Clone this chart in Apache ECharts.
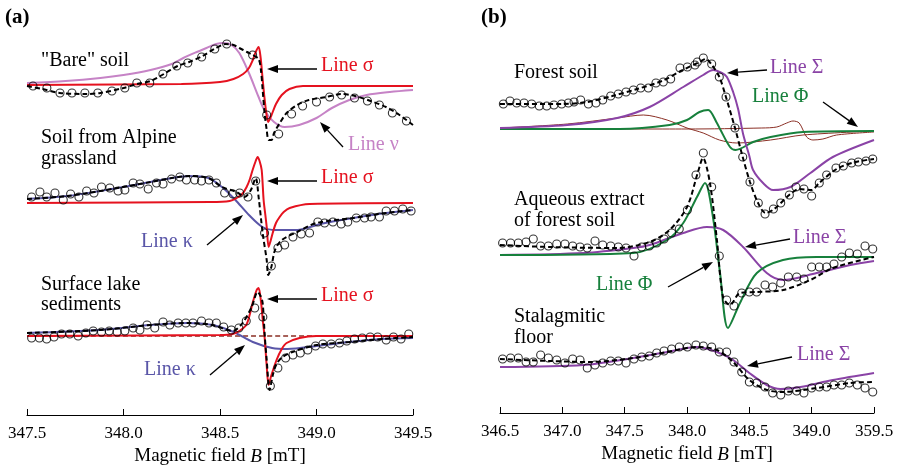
<!DOCTYPE html>
<html><head><meta charset="utf-8">
<script src="https://cdn.jsdelivr.net/npm/echarts@6/dist/echarts.min.js"></script>
<style>html,body{margin:0;padding:0;background:#fff}#c{width:903px;height:470px}</style>
</head><body><div id="c"></div>
<script>
// ---------- tick labels ----------
const tickLabelsA = ['347.5','348.0','348.5','349.0','349.5'];
const tickLabelsB = ['346.5','347.0','347.5','348.0','348.5','349.0','359.5'];

// ---------- vertical offsets of stacked spectra (arb. units) ----------
const offBare = 330, offAlpine = 212, offLake = 79;
const offForest = 284, offAqueous = 158, offStalag = 46;

// ---------- panel (a): "Bare" soil ----------
const bareSigma = [[347.5,0],[348.3,1],[348.5,3],[348.57,6],[348.62,11],[348.65,17],[348.67,25],[348.685,33],[348.70,38],[348.71,28],[348.72,8],[348.73,-12],[348.74,-28],[348.75,-37],[348.765,-31],[348.79,-19],[348.82,-10],[348.86,-4],[348.93,-1],[349.5,-1]];
const bareNu = [[347.5,2],[347.7,4],[347.88,7],[348.0,10],[348.14,15],[348.25,21],[348.31,27],[348.38,33],[348.43,37],[348.48,41],[348.52,42],[348.56,40],[348.6,32],[348.65,12],[348.7,-12],[348.73,-25],[348.78,-37],[348.835,-42],[348.91,-40],[349.0,-33],[349.08,-23],[349.17,-15],[349.26,-10],[349.38,-7],[349.5,-5]];
const bareFit = [[347.5,-1],[347.58,-4],[347.67,-8],[347.81,-9],[347.88,-8],[348.0,-3],[348.07,1],[348.14,4],[348.2,10],[348.28,19],[348.34,23],[348.41,29],[348.47,36],[348.53,41],[348.57,40],[348.6,37],[348.64,33],[348.67,30],[348.70,26],[348.712,15],[348.721,-5],[348.731,-28],[348.742,-45],[348.752,-55],[348.767,-55],[348.78,-48],[348.81,-38],[348.845,-28],[348.9,-20],[348.96,-15],[349.05,-12],[349.13,-9],[349.2,-11],[349.28,-16],[349.36,-22],[349.43,-30],[349.5,-40]];
const bareData = [[347.531,-1],[347.603,-3],[347.671,-8],[347.733,-8],[347.800,-8],[347.867,-8],[347.940,-6],[348.007,-3],[348.069,2],[348.136,2],[348.204,11],[348.276,19],[348.333,22],[348.405,28],[348.473,36],[348.535,41],[348.669,30],[348.742,-30],[348.804,-49],[348.871,-29],[348.928,-21],[349.000,-17],[349.068,-12],[349.130,-10],[349.197,-13],[349.264,-16],[349.326,-20],[349.393,-28],[349.466,-36]];

// ---------- panel (a): Soil from Alpine grassland ----------
const alpSigma = [[347.5,0],[348.45,1],[348.55,2],[348.586,5],[348.615,9],[348.638,16],[348.655,24],[348.669,33],[348.685,42],[348.695,46],[348.705,42],[348.716,33],[348.726,3],[348.735,-12],[348.742,-24],[348.752,-44],[348.762,-38],[348.773,-30],[348.79,-20],[348.809,-14],[348.83,-9],[348.861,-5],[348.964,-1],[349.5,0]];
const alpKappa = [[347.5,4],[347.71,7],[347.97,15],[348.14,21],[348.25,25],[348.34,27],[348.44,25],[348.51,16],[348.58,3],[348.65,-12],[348.72,-24],[348.79,-27],[348.9,-27],[349.02,-21],[349.19,-15],[349.36,-10],[349.5,-7]];
const alpFit = [[347.5,4],[347.71,7],[347.97,15],[348.14,21],[348.25,25],[348.34,27],[348.44,25],[348.51,16],[348.586,11],[348.628,6],[348.66,13],[348.685,25],[348.70,6],[348.721,-30],[348.742,-57],[348.75,-72],[348.766,-64],[348.785,-47],[348.82,-37],[348.9,-29],[349.0,-20],[349.19,-15],[349.36,-10],[349.5,-7]];
const alpData = [[347.524,6],[347.567,11],[347.602,6],[347.645,10],[347.688,3],[347.726,9],[347.769,6],[347.809,12],[347.847,10],[347.886,16],[347.929,15],[347.972,12],[348.007,13],[348.050,20],[348.085,19],[348.128,14],[348.171,20],[348.205,19],[348.249,24],[348.292,26],[348.326,23],[348.369,23],[348.404,22],[348.443,23],[348.481,20],[348.524,10],[348.567,9],[348.602,10],[348.645,6],[348.685,22],[348.731,-30],[348.766,-63],[348.800,-45],[348.835,-42],[348.878,-34],[348.921,-31],[348.964,-30],[349.007,-19],[349.042,-20],[349.085,-19],[349.128,-21],[349.162,-19],[349.206,-15],[349.249,-15],[349.283,-14],[349.326,-14],[349.361,-8],[349.404,-8],[349.447,-6],[349.490,-8]];

// ---------- panel (a): Surface lake sediments ----------
const lakeSigma = [[347.5,0],[348.5,1],[348.566,2],[348.6,5],[348.636,11],[348.655,22],[348.669,33],[348.69,46],[348.70,48],[348.712,35],[348.722,15],[348.731,-1],[348.742,-30],[348.752,-49],[348.765,-40],[348.793,-24],[348.82,-13],[348.845,-7],[348.912,-2],[349.0,0],[349.5,0]];
const lakeKappa = [[347.5,3],[347.88,6],[348.14,11],[348.33,13],[348.46,11],[348.57,4],[348.67,-6],[348.77,-12],[348.85,-13],[349.0,-10],[349.17,-6],[349.34,-3],[349.5,-2]];
const lakeBase = [[347.5,0],[349.5,0]];
const lakeFit = [[347.5,3],[347.88,6],[348.14,11],[348.33,13],[348.46,11],[348.566,5],[348.617,13],[348.664,29],[348.695,44],[348.71,40],[348.721,33],[348.732,0],[348.742,-24],[348.757,-54],[348.775,-38],[348.793,-28],[348.824,-21],[348.876,-16],[349.0,-9],[349.17,-6],[349.34,-3],[349.5,-1]];
const lakeData = [[347.524,-2],[347.564,-2],[347.602,-3],[347.640,-1],[347.679,2],[347.722,2],[347.765,0],[347.805,3],[347.843,5],[347.886,4],[347.926,5],[347.967,4],[348.007,5],[348.050,8],[348.085,6],[348.122,11],[348.162,8],[348.205,14],[348.240,11],[348.283,13],[348.323,13],[348.360,13],[348.404,15],[348.443,13],[348.481,13],[348.519,9],[348.559,6],[348.598,8],[348.636,15],[348.680,28],[348.722,19],[348.761,-50],[348.800,-32],[348.840,-22],[348.878,-19],[348.916,-17],[348.955,-14],[348.995,-10],[349.033,-8],[349.076,-8],[349.119,-7],[349.157,-5],[349.197,-3],[349.237,-2],[349.278,-1],[349.317,-1],[349.361,-4],[349.399,-1],[349.438,-3],[349.478,2]];

// ---------- panel (b): Forest soil ----------
const forSigma = [[346.5,1],[347.04,4],[347.44,11],[347.7,22],[347.97,42],[348.13,54],[348.21,59],[348.28,56],[348.32,52],[348.37,37],[348.41,20],[348.45,-5],[348.5,-27],[348.53,-41],[348.61,-54],[348.69,-61],[348.83,-58],[348.99,-44],[349.17,-28],[349.5,-11]];
const forPhi = [[346.5,0],[347.46,0],[347.86,4],[348.0,9],[348.1,17],[348.17,19],[348.24,6],[348.265,0],[348.345,-18],[348.39,-21],[348.53,-13],[348.67,-8],[348.93,-3],[349.5,-2]];
const forBrownA = [[346.5,1],[347.04,5],[347.44,11],[347.65,14],[347.84,9],[348.0,1],[348.13,-4],[348.26,-11],[348.4,-14],[348.67,-11],[348.93,-6],[349.5,-2]];
const forBrownB = [[346.5,0],[348.0,0],[348.6,1],[348.72,2],[348.8,6],[348.85,8],[348.9,6],[348.96,-8],[349.01,-11],[349.09,-10],[349.2,-6],[349.5,-3]];
const forFit = [[346.5,25],[347.0,25],[347.2,27],[347.4,33],[347.6,40],[347.8,48],[347.95,58],[348.1,67],[348.15,70],[348.2,64],[348.26,52],[348.31,33],[348.385,1],[348.447,-28],[348.505,-53],[348.57,-74],[348.63,-84],[348.7,-80],[348.82,-66],[348.9,-60],[349.0,-61],[349.06,-54],[349.2,-40],[349.35,-33],[349.5,-30]];
const forData = [[346.527,25],[346.580,28],[346.634,26],[346.693,26],[346.754,25],[346.815,23],[346.875,23],[346.933,24],[346.995,25],[347.048,26],[347.094,27],[347.147,29],[347.209,25],[347.270,26],[347.324,29],[347.388,33],[347.449,35],[347.511,37],[347.570,39],[347.629,41],[347.690,41],[347.751,46],[347.810,47],[347.869,50],[347.944,61],[348.003,62],[348.064,64],[348.083,67],[348.131,71],[348.198,65],[348.259,52],[348.313,32],[348.385,1],[348.447,-28],[348.505,-53],[348.572,-74],[348.626,-85],[348.693,-80],[348.752,-74],[348.821,-66],[348.874,-58],[348.938,-60],[349.000,-67],[349.061,-54],[349.120,-46],[349.195,-39],[349.254,-37],[349.321,-34],[349.374,-33],[349.436,-32],[349.490,-30]];

// ---------- panel (b): Aqueous extract of forest soil ----------
const aqPhi = [[346.5,0],[347.57,2],[347.84,15],[347.97,32],[348.08,58],[348.144,72],[348.208,38],[348.265,-18],[348.329,-73],[348.425,-48],[348.56,-18],[348.77,-5],[349.04,-2],[349.5,-2]];
const aqSigma = [[346.5,0],[347.17,2],[347.57,7],[347.7,10],[347.97,22],[348.16,28],[348.29,25],[348.45,8],[348.64,-18],[348.77,-25],[349.04,-18],[349.31,-10],[349.5,-6]];
const aqFit = [[346.5,10],[346.9,8],[347.44,7],[347.7,13],[347.86,25],[348.0,48],[348.088,83],[348.128,97],[348.184,72],[348.24,15],[348.289,-42],[348.345,-50],[348.425,-38],[348.56,-37],[348.77,-35],[348.99,-25],[349.17,-13],[349.5,-2]];
const aqData = [[346.521,12],[346.585,12],[346.647,12],[346.709,13],[346.767,16],[346.826,9],[346.888,9],[346.955,11],[347.021,11],[347.083,9],[347.142,8],[347.200,7],[347.262,14],[347.324,10],[347.388,9],[347.449,8],[347.511,7],[347.575,-1],[347.637,8],[347.698,9],[347.757,12],[347.816,16],[347.877,22],[347.938,26],[348.003,45],[348.072,80],[348.131,102],[348.198,68],[348.259,-1],[348.318,-45],[348.377,-51],[348.439,-38],[348.500,-37],[348.559,-37],[348.626,-30],[348.687,-32],[348.752,-28],[348.813,-22],[348.880,-22],[348.938,-24],[349.000,-12],[349.061,-12],[349.120,-12],[349.179,-9],[349.241,-2],[349.302,2],[349.366,1],[349.428,9],[349.490,6]];

// ---------- panel (b): Stalagmitic floor ----------
const stSigma = [[346.5,0],[347.17,2],[347.57,9],[347.84,15],[348.08,20],[348.24,15],[348.37,7],[348.5,-6],[348.64,-18],[348.75,-22],[348.91,-20],[349.17,-13],[349.5,-6]];
const stFit = [[346.5,8],[346.9,6],[347.22,5],[347.57,9],[347.84,15],[348.08,20],[348.24,17],[348.37,5],[348.5,-13],[348.64,-23],[348.77,-25],[349.04,-21],[349.31,-16],[349.5,-15]];
const stData = [[346.521,8],[346.585,9],[346.647,9],[346.709,5],[346.767,5],[346.826,12],[346.888,9],[346.955,7],[347.021,4],[347.083,8],[347.142,7],[347.200,-1],[347.262,2],[347.324,4],[347.388,6],[347.449,6],[347.511,4],[347.575,8],[347.637,10],[347.698,11],[347.757,14],[347.816,16],[347.877,18],[347.938,20],[348.003,20],[348.072,22],[348.131,21],[348.198,20],[348.259,15],[348.318,15],[348.377,5],[348.439,-5],[348.500,-15],[348.559,-16],[348.626,-20],[348.687,-26],[348.752,-28],[348.813,-24],[348.880,-24],[348.938,-26],[349.000,-21],[349.061,-20],[349.120,-20],[349.179,-18],[349.241,-18],[349.302,-16],[349.366,-18],[349.428,-21],[349.490,-25]];

// ---------- styles ----------
const C = {red:'#e5121f', pink:'#c683c6', blue:'#5a56a8', purple:'#8a43a6', green:'#17803c', brown:'#8b2f25', black:'#000'};
const SERIF = 'Liberation Serif';

function shift(arr, off){ return arr.map(p => [p[0], p[1] + off]); }
function line(panel, arr, off, color, width, dashed, z){
  return {type:'line', xAxisIndex:panel, yAxisIndex:panel, data:shift(arr,off), showSymbol:false, smooth:0.3,
    lineStyle:{color:color, width:width, type: dashed ? [5,3] : 'solid'}, z:z||2, silent:true};
}
function pts(panel, arr, off){
  return {type:'scatter', xAxisIndex:panel, yAxisIndex:panel, data:shift(arr,off), symbol:'circle', symbolSize:8,
    itemStyle:{color:'rgba(0,0,0,0)', borderColor:'#000', borderWidth:1.1}, z:5, silent:true};
}

const series = [
  line(0, bareNu, offBare, C.pink, 2),
  line(0, bareSigma, offBare, C.red, 2),
  line(0, bareFit, offBare, C.black, 2, true, 3),
  pts(0, bareData, offBare),
  line(0, alpKappa, offAlpine, C.blue, 2),
  line(0, alpSigma, offAlpine, C.red, 2),
  line(0, alpFit, offAlpine, C.black, 2, true, 3),
  pts(0, alpData, offAlpine),
  line(0, lakeBase, offLake, C.brown, 1.5, true),
  line(0, lakeKappa, offLake, C.blue, 2),
  line(0, lakeSigma, offLake, C.red, 2),
  line(0, lakeFit, offLake, C.black, 2, true, 3),
  pts(0, lakeData, offLake),
  line(1, forBrownB, offForest, C.brown, 1),
  line(1, forBrownA, offForest, C.brown, 1),
  line(1, forPhi, offForest, C.green, 2),
  line(1, forSigma, offForest, C.purple, 2),
  line(1, forFit, offForest, C.black, 2, true, 3),
  pts(1, forData, offForest),
  line(1, aqSigma, offAqueous, C.purple, 2),
  line(1, aqPhi, offAqueous, C.green, 2),
  line(1, aqFit, offAqueous, C.black, 2, true, 3),
  pts(1, aqData, offAqueous),
  line(1, stSigma, offStalag, C.purple, 2),
  line(1, stFit, offStalag, C.black, 2, true, 3),
  pts(1, stData, offStalag)
];

function xAxis(grid, min, max, labels){
  return {type:'value', gridIndex:grid, min:min, max:max, interval:0.5,
    axisLine:{show:true, onZero:false, lineStyle:{color:'#000', width:1}},
    axisTick:{show:true, inside:true, length:6, lineStyle:{color:'#000', width:1}},
    splitLine:{show:false},
    axisLabel:{margin:10, color:'#000', fontFamily:SERIF, fontSize:17,
      formatter: v => labels[Math.round((v - min) / 0.5)]},
    name:'{n|Magnetic field }{i|B}{n| [mT]}', nameLocation:'middle', nameGap:32,
    nameTextStyle:{rich:{n:{fontFamily:SERIF, fontSize:19, color:'#000'}, i:{fontFamily:SERIF, fontSize:19, fontStyle:'italic', color:'#000'}}}
  };
}

function txt(x, y, s, color, size, bold){
  return {type:'text', x:x, y:y, style:{text:s, fill:color||'#000', font:(bold?'bold ':'') + (size||20) + 'px ' + SERIF, verticalAlign:'middle'}, z:10};
}
function arrow(x1, y1, x2, y2){
  const a = Math.atan2(y2 - y1, x2 - x1), L = 11, W = 4;
  const bx = x2 - L*Math.cos(a), by = y2 - L*Math.sin(a);
  const px = -Math.sin(a)*W, py = Math.cos(a)*W;
  return [
    {type:'line', shape:{x1:x1, y1:y1, x2:bx, y2:by}, style:{stroke:'#000', lineWidth:1.3}, z:10},
    {type:'polygon', shape:{points:[[x2,y2],[bx+px,by+py],[bx-px,by-py]]}, style:{fill:'#000'}, z:10}
  ];
}

const graphic = [
  txt(5, 18, '(a)', '#000', 21, true),
  txt(481, 18, '(b)', '#000', 21, true),
  txt(41, 61, '"Bare" soil'),
  txt(41, 138, 'Soil from Alpine'),
  txt(41, 159, 'grassland'),
  txt(41, 285, 'Surface lake'),
  txt(41, 305, 'sediments'),
  txt(321, 66, 'Line σ', C.red),
  txt(348, 145, 'Line ν', C.pink),
  txt(321, 178, 'Line σ', C.red),
  txt(141, 242, 'Line κ', C.blue),
  txt(321, 296, 'Line σ', C.red),
  txt(144, 370, 'Line κ', C.blue),
  txt(514, 73, 'Forest soil'),
  txt(770, 68, 'Line Σ', C.purple),
  txt(752, 97, 'Line Φ', C.green),
  txt(514, 200, 'Aqueous extract'),
  txt(514, 221, 'of forest soil'),
  txt(793, 238, 'Line Σ', C.purple),
  txt(596, 285, 'Line Φ', C.green),
  txt(514, 317, 'Stalagmitic'),
  txt(514, 338, 'floor'),
  txt(797, 355, 'Line Σ', C.purple),
  ...arrow(317, 69, 267, 69),
  ...arrow(343, 147, 320, 122),
  ...arrow(317, 181, 267, 181),
  ...arrow(207, 245, 243, 215),
  ...arrow(317, 299, 267, 299),
  ...arrow(210, 375, 245, 345),
  ...arrow(767, 70, 727, 73),
  ...arrow(823, 102, 858, 127),
  ...arrow(790, 239, 745, 247),
  ...arrow(668, 287, 713, 262),
  ...arrow(792, 357, 747, 366)
];

const chart = echarts.init(document.getElementById('c'), null, {renderer:'canvas'});
chart.setOption({
  animation:false,
  backgroundColor:'#fff',
  grid:[{left:27, width:386, top:0, height:415, containLabel:false, outerBoundsMode:'none'},
        {left:500, width:374, top:0, height:413, containLabel:false, outerBoundsMode:'none'}],
  xAxis:[xAxis(0, 347.5, 349.5, tickLabelsA), xAxis(1, 346.5, 349.5, tickLabelsB)],
  yAxis:[{type:'value', gridIndex:0, min:0, max:415, show:false}, {type:'value', gridIndex:1, min:0, max:413, show:false}],
  series:series,
  graphic:graphic
});
</script></body></html>
